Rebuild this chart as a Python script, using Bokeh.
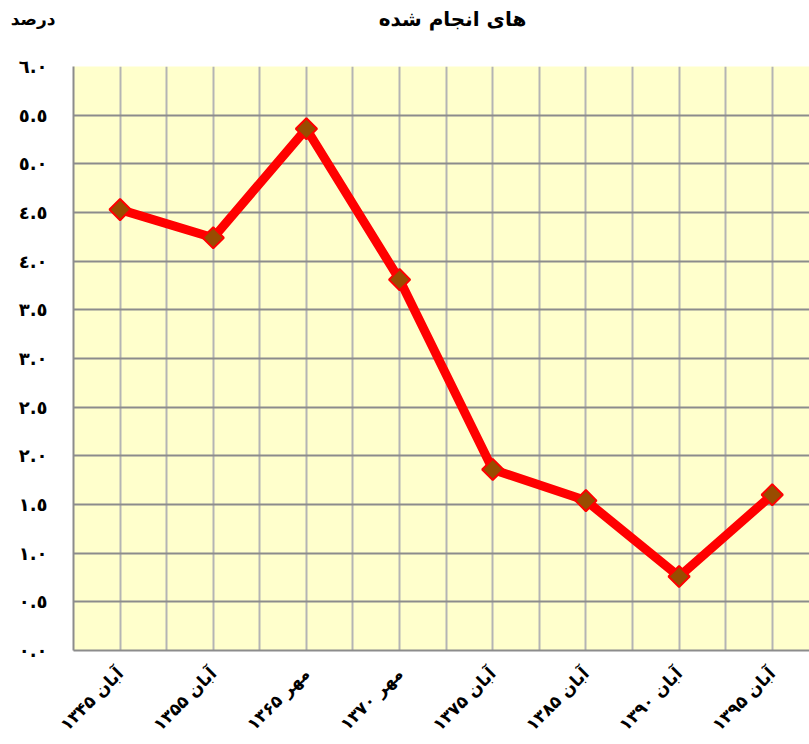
import math
from bokeh.plotting import figure
from bokeh.layouts import column
from bokeh.models import FixedTicker, ColumnDataSource
from bokeh.core.properties import value
from bokeh.embed import file_html
from bokeh.resources import INLINE

categories = ["آبان ۱۳۴۵", "آبان ۱۳۵۵", "مهر ۱۳۶۵", "مهر ۱۳۷۰",
              "آبان ۱۳۷۵", "آبان ۱۳۸۵", "آبان ۱۳۹۰", "آبان ۱۳۹۵"]
values = [4.53, 4.24, 5.36, 3.81, 1.86, 1.54, 0.76, 1.60]
y_ticks = [0.0, 0.5, 1.0, 1.5, 2.0, 2.5, 3.0, 3.5, 4.0, 4.5, 5.0, 5.5, 6.0]
y_tick_labels = ["٠.٠", "٠.٥", "١.٠", "١.٥", "٢.٠", "٢.٥", "٣.٠", "٣.٥",
                 "٤.٠", "٤.٥", "٥.٠", "٥.٥", "٦.٠"]
title_text = "های انجام شده"
unit_text = "درصد"

FONT = "DejaVu Sans"
HEAD_H = 36

# header strip: title as text, unit as a horizontal axis label on its left
head = figure(width=809, height=HEAD_H, x_range=(73, 809), y_range=(HEAD_H, 0),
              output_backend="svg", toolbar_location=None,
              min_border=0, min_border_left=73, outline_line_color=None,
              background_fill_color="white", border_fill_color="white")
head.xaxis.visible = False
head.grid.visible = False
hy = head.yaxis[0]
hy.ticker = FixedTicker(ticks=[])
hy.axis_line_color = None
hy.major_tick_line_color = None
hy.minor_tick_line_color = None
hy.axis_label = unit_text
hy.axis_label_orientation = "horizontal"
hy.axis_label_text_font = FONT
hy.axis_label_text_font_style = "bold"
hy.axis_label_text_font_size = "17px"
hy.axis_label_text_color = "black"
hy.axis_label_standoff = 18
head.text(x=[452], y=[18], text=[title_text], text_align="center",
          text_baseline="middle", text_font=value(FONT),
          text_font_style="bold", text_font_size="20px", text_color="black")

xs = list(range(len(categories)))
src = ColumnDataSource(dict(x=xs, y=values))

p = figure(width=809, height=744 - HEAD_H, x_range=(-0.5, 7.4), y_range=(0, 6),
           output_backend="svg", toolbar_location=None,
           min_border_left=73, min_border_right=0, min_border_top=66 - HEAD_H,
           min_border_bottom=94, background_fill_color="#FFFFCC",
           border_fill_color="white", outline_line_color=None)

# grids
p.xgrid.ticker = FixedTicker(ticks=[i * 0.5 - 0.5 for i in range(18)])
p.xgrid.grid_line_color = "#B4B4B4"
p.xgrid.grid_line_width = 2
p.ygrid.ticker = FixedTicker(ticks=y_ticks)
p.ygrid.grid_line_color = "#8C8C8C"
p.ygrid.grid_line_width = 2

# axes
p.xaxis.ticker = FixedTicker(ticks=xs)
p.xaxis.major_label_overrides = {i: c for i, c in enumerate(categories)}
p.xaxis.major_label_orientation = math.pi / 4
p.yaxis.ticker = FixedTicker(ticks=y_ticks)
p.yaxis.major_label_overrides = {t: l for t, l in zip(y_ticks, y_tick_labels)}
for ax in (p.xaxis, p.yaxis):
    ax.axis_line_color = "#8C8C8C"
    ax.axis_line_width = 2
    ax.major_tick_line_color = None
    ax.minor_tick_line_color = None
    ax.major_label_text_font = FONT
    ax.major_label_text_font_style = "bold"
    ax.major_label_text_color = "black"
p.yaxis.major_label_text_font_size = "18px"
p.xaxis.major_label_text_font_size = "17px"
p.yaxis.major_label_standoff = 20
p.xaxis.major_label_standoff = 14

p.line("x", "y", source=src, line_color="red", line_width=9)
p.scatter("x", "y", source=src, marker="square", angle=math.pi / 4, size=15,
          fill_color="#994C00", line_color="red", line_width=2)

layout = column(head, p, spacing=0)
open("out.html", "w").write(file_html(layout, INLINE))
